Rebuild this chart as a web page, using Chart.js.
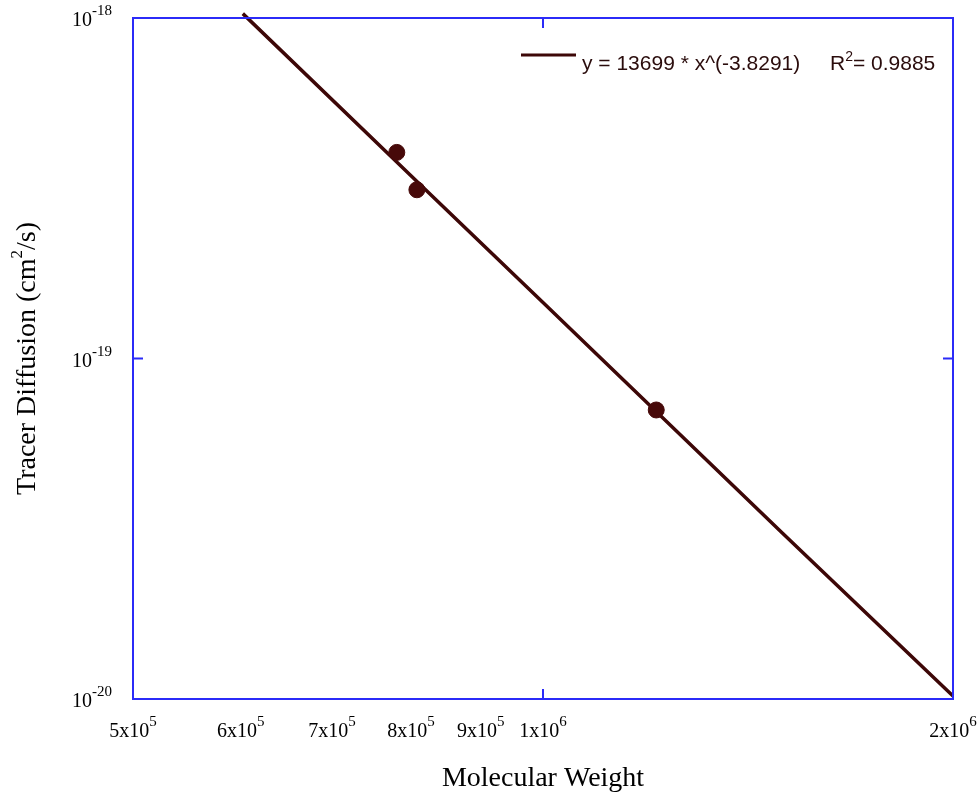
<!DOCTYPE html>
<html>
<head>
<meta charset="utf-8">
<script src="https://cdn.jsdelivr.net/npm/chart.js@4/dist/chart.umd.min.js"></script>
<style>
  body { margin: 0; background: #ffffff; }
  #wrap { width: 980px; height: 795px; position: relative; }
</style>
</head>
<body>
<div id="wrap"><canvas id="diffChart"></canvas></div>
<script>
// values
const weights = [7.81e5, 8.08e5, 1.211e6];
const diffusion = [4.03e-19, 3.13e-19, 7.06e-20];

// fitted power law line
const fitWeights = [6.02e5, 8.0e5, 1.0e6, 1.5e6, 2.0e6];
const fitDiffusion = [1.03e-18, 3.44e-19, 1.46e-19, 3.06e-20, 1.02e-20];

// tick labels
const xTickValues = [5e5, 6e5, 7e5, 8e5, 9e5, 1e6, 2e6];
const xTickBase = ["5x10", "6x10", "7x10", "8x10", "9x10", "1x10", "2x10"];
const xTickExp = ["5", "5", "5", "5", "5", "6", "6"];
const yTickValues = [1e-20, 1e-19, 1e-18];
const yTickExp = ["-20", "-19", "-18"];
const xMarkTicks = [1e6];  // bottom/top inward ticks

const fitLabel = "y = 13699 * x^(-3.8291)";
const r2Label = ["R", "2", "= 0.9885"];
const xTitle = "Molecular Weight";
const yTitle = ["Tracer Diffusion (cm", "2", "/s)"];

const lineColor = "#3d0707";
const frameColor = "#2b2bf8";
const serif = "'Liberation Serif', 'Times New Roman', serif";
const sans = "'Liberation Sans', Arial, sans-serif";

// draws base text with a raised superscript, anchored by its centre or right end
function supText(ctx, x, y, base, sup, baseSize, supSize, anchor) {
    ctx.font = baseSize + "px " + serif;
    const wb = ctx.measureText(base).width;
    ctx.font = supSize + "px " + serif;
    const ws = ctx.measureText(sup).width;
    let start = x;
    if (anchor === "center") start = x - (wb + ws) / 2;
    if (anchor === "right") start = x - (wb + ws);
    ctx.textAlign = "left";
    ctx.textBaseline = "alphabetic";
    ctx.font = baseSize + "px " + serif;
    ctx.fillText(base, start, y);
    ctx.font = supSize + "px " + serif;
    ctx.fillText(sup, start + wb, y - 11);
}

const framePlugin = {
    id: "frame",
    afterDatasetsDraw(chart) {
        const ctx = chart.ctx;
        const a = chart.chartArea;
        const xs = chart.scales.x;
        const ys = chart.scales.y;
        ctx.save();
        ctx.strokeStyle = frameColor;
        ctx.lineWidth = 2;
        ctx.strokeRect(a.left, a.top, a.right - a.left, a.bottom - a.top);

        // inward ticks
        ctx.beginPath();
        yTickValues.forEach(v => {
            const py = ys.getPixelForValue(v);
            ctx.moveTo(a.left, py); ctx.lineTo(a.left + 10, py);
            ctx.moveTo(a.right, py); ctx.lineTo(a.right - 10, py);
        });
        xMarkTicks.forEach(v => {
            const px = xs.getPixelForValue(v);
            ctx.moveTo(px, a.bottom); ctx.lineTo(px, a.bottom - 10);
            ctx.moveTo(px, a.top); ctx.lineTo(px, a.top + 10);
        });
        ctx.stroke();

        // tick labels
        ctx.fillStyle = "#000000";
        xTickValues.forEach((v, i) => {
            const px = xs.getPixelForValue(v);
            supText(ctx, px, a.bottom + 38, xTickBase[i], xTickExp[i], 20, 15, "center");
        });
        yTickValues.forEach((v, i) => {
            const py = ys.getPixelForValue(v);
            supText(ctx, 112, py + 8, "10", yTickExp[i], 20, 15, "right");
        });

        // axis titles
        ctx.font = "28px " + serif;
        ctx.textAlign = "center";
        ctx.textBaseline = "alphabetic";
        ctx.fillText(xTitle, (a.left + a.right) / 2, 786);

        ctx.translate(35, (a.top + a.bottom) / 2);
        ctx.rotate(-Math.PI / 2);
        ctx.font = "28px " + serif;
        const w1 = ctx.measureText(yTitle[0]).width;
        const w3 = ctx.measureText(yTitle[2]).width;
        ctx.font = "17px " + serif;
        const w2 = ctx.measureText(yTitle[1]).width;
        let sx = -(w1 + w2 + w3) / 2;
        ctx.textAlign = "left";
        ctx.font = "28px " + serif;
        ctx.fillText(yTitle[0], sx, 0);
        ctx.font = "17px " + serif;
        ctx.fillText(yTitle[1], sx + w1, -13);
        ctx.font = "28px " + serif;
        ctx.fillText(yTitle[2], sx + w1 + w2, 0);
        ctx.setTransform(1, 0, 0, 1, 0, 0);

        // legend
        ctx.strokeStyle = lineColor;
        ctx.lineWidth = 3;
        ctx.beginPath();
        ctx.moveTo(521, 55);
        ctx.lineTo(576, 55);
        ctx.stroke();
        ctx.fillStyle = "#2a0c0c";
        ctx.font = "21px " + sans;
        ctx.textAlign = "left";
        ctx.fillText(fitLabel, 582, 70);
        let rx = 830;
        ctx.fillText(r2Label[0], rx, 70);
        rx += ctx.measureText(r2Label[0]).width;
        ctx.font = "14px " + sans;
        ctx.fillText(r2Label[1], rx, 61);
        rx += ctx.measureText(r2Label[1]).width;
        ctx.font = "21px " + sans;
        ctx.fillText(r2Label[2], rx, 70);
        ctx.restore();
    }
};

const ctx = document.getElementById("diffChart").getContext("2d");
const chart = new Chart(ctx, {
    type: "scatter",
    data: {
        datasets: [
            {
                label: "data",
                data: weights.map((w, i) => ({ x: w, y: diffusion[i] })),
                pointRadius: 8,
                pointBackgroundColor: "#470909",
                pointBorderColor: "#470909",
                showLine: false,
                order: 1
            },
            {
                label: "fit",
                data: fitWeights.map((w, i) => ({ x: w, y: fitDiffusion[i] })),
                showLine: true,
                pointRadius: 0,
                borderColor: lineColor,
                borderWidth: 3.5,
                clip: false,
                order: 2
            }
        ]
    },
    options: {
        responsive: true,
        maintainAspectRatio: false,
        animation: false,
        layout: {
            padding: { left: 133, right: 27, top: 18, bottom: 96 }
        },
        scales: {
            x: { type: "logarithmic", min: 5e5, max: 2e6, display: false },
            y: { type: "logarithmic", min: 1e-20, max: 1e-18, display: false }
        },
        plugins: {
            legend: { display: false },
            tooltip: { enabled: false }
        }
    },
    plugins: [framePlugin]
});
</script>
</body>
</html>
